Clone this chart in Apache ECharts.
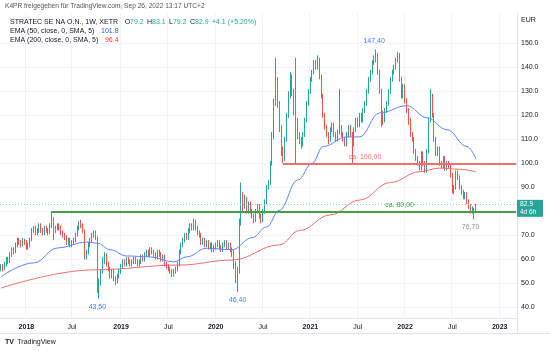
<!DOCTYPE html>
<html>
<head>
<meta charset="utf-8">
<script src="https://cdn.jsdelivr.net/npm/echarts@6/dist/echarts.min.js"></script>
<style>
  html, body {margin: 0; padding: 0; background: #ffffff;}
  #chart {width: 550px; height: 351px;}
</style>
</head>
<body>
<div id="chart"></div>
<script>
const firstWeek = "2017-09-25";
const weekCount = 284;

// weekly candles, [open, close, low, high]
const candles2017 = [
  [56, 57, 55, 58], [57, 56, 55, 58], [56, 58, 55.5, 59], [58, 60, 57, 61], [60, 59, 58, 61],
  [59, 62, 58.5, 63], [62, 64, 61, 65], [64, 63, 62, 65], [63, 66, 62.5, 67], [66, 68, 65, 69],
  [68, 67, 66, 69], [67, 66, 65, 68], [66, 68, 65.5, 69], [68, 67, 66, 68.5],
];
const candles2018 = [
  [67, 65, 64, 68], [65, 66, 64, 67], [66, 68, 65, 69], [68, 72, 67.5, 73], [72, 73, 71, 74],
  [73, 71, 70, 74], [71, 72, 70, 73], [72, 74, 71, 75], [74, 72, 71, 75], [72, 71, 70, 73],
  [71, 73, 70, 74], [73, 72, 71, 74], [72, 71, 70, 73], [71, 74, 70.5, 75], [74, 77, 73, 80],
  [77, 72, 68, 77.5], [72, 73, 71, 74], [73, 74, 72, 75], [74, 73, 72, 75], [73, 71, 70, 74],
  [71, 70, 69, 72], [70, 69, 68, 71], [69, 67, 66, 70], [67, 68, 66, 69], [68, 66, 65, 69],
  [66, 67, 65, 68], [67, 68, 66, 69], [68, 70, 67, 71], [70, 73, 69.5, 74], [73, 75, 72, 76],
  [75, 74, 73, 76.5], [74, 72, 71, 75], [72, 61, 60, 72.5], [61, 63, 60, 64], [63, 66, 62, 67],
  [66, 68, 65, 69], [68, 70, 67, 71], [70, 71, 69, 72], [71, 69, 68, 72], [69, 48, 46, 69.5],
  [48, 50, 43.5, 52], [50, 55, 49, 56], [55, 60, 54, 61], [60, 62, 58, 63], [62, 58, 57, 62.5],
  [58, 56, 55, 59], [56, 53, 52, 57], [53, 55, 52, 56], [55, 52, 51, 56], [52, 51, 49.3, 53],
  [51, 53, 50, 54], [53, 55, 52, 56],
];
const candles2019 = [
  [55, 57, 54, 58], [57, 59, 56, 60], [59, 58, 57, 60], [58, 60, 57, 61], [60, 59, 58, 61],
  [59, 58, 57, 60], [58, 59, 57, 60], [59, 60, 58, 61], [60, 59, 58, 61], [59, 58, 57, 60],
  [58, 59, 57, 60], [59, 61, 58, 62], [61, 60, 59, 62], [60, 62, 59, 63], [62, 63, 61, 64],
  [63, 62, 61, 64], [62, 64, 61, 65], [64, 63, 62, 65], [63, 62, 61, 64], [62, 61, 60, 63],
  [61, 63, 60, 64], [63, 62, 61, 64], [62, 60, 59, 63], [60, 61, 59, 62], [61, 58, 57, 62],
  [58, 57, 56, 59], [57, 56, 55, 58], [56, 55, 54, 57], [55, 53, 52.6, 56], [53, 55, 52.8, 56],
  [55, 56, 54, 57], [56, 58, 55, 59], [58, 63, 57, 64], [63, 66, 62, 67], [66, 68, 65, 69],
  [68, 70, 67, 71], [70, 69, 68, 71], [69, 72, 68, 73], [72, 74, 71, 75], [74, 73, 72, 75],
  [73, 76, 72, 77], [76, 73, 72, 76.5], [73, 71, 70, 74], [71, 70, 69, 72], [70, 67, 66, 71],
  [67, 68, 66, 69], [68, 66, 65, 69], [66, 67, 65, 68], [67, 65, 64, 68], [65, 66, 64, 67],
  [66, 64, 63, 67], [64, 65, 63, 66],
];
const candles2020 = [
  [65, 66, 64, 67], [66, 67, 65, 68], [67, 65, 64, 68], [65, 64, 63, 66], [64, 66, 63, 67],
  [66, 67, 65, 68], [67, 65, 64, 68], [65, 66, 64, 67], [66, 64, 63, 67], [64, 63, 61, 65],
  [63, 58, 56, 64], [58, 52, 50, 59], [52, 55, 46.4, 57], [55, 75, 54, 77], [75, 86, 74, 92],
  [86, 82, 80, 88], [82, 85, 81, 87], [85, 80, 79, 86], [80, 83, 79, 84], [83, 80, 79, 84],
  [80, 78, 77, 81], [78, 76, 75, 79], [76, 80, 75.5, 81], [80, 82, 79, 83], [82, 78, 77, 83],
  [78, 76, 75, 79], [76, 80, 75.5, 81], [80, 84, 79, 85], [84, 90, 83, 91], [90, 92, 89, 93],
  [92, 100, 91, 101], [100, 112, 99, 113], [112, 125, 110, 127], [125, 135, 124, 144], [135, 125, 123, 136],
  [125, 115, 113, 126], [115, 105, 103, 116], [105, 102, 100, 107], [102, 110, 101, 111], [110, 120, 109, 121],
  [120, 128, 119, 130], [128, 136, 127, 138], [136, 130, 128, 137], [130, 122, 120, 131], [122, 118, 100, 144],
  [118, 112, 110, 119], [112, 110, 108, 113], [110, 108, 106, 111], [108, 112, 107, 113], [112, 118, 111, 119],
  [118, 125, 117, 126], [125, 130, 124, 131],
];
const candles2021 = [
  [130, 135, 129, 136], [135, 138, 134, 139], [138, 142, 137, 143], [142, 140, 139, 143], [140, 143, 139, 145],
  [143, 136, 135, 144], [136, 128, 127, 137], [128, 120, 119, 129], [120, 115, 114, 121], [115, 112, 111, 116],
  [112, 110, 108, 113], [110, 114, 109, 115], [114, 116, 113, 117], [116, 112, 111, 117], [112, 110, 109, 113],
  [110, 113, 109, 114], [113, 115, 112, 131], [115, 112, 111, 116], [112, 110, 109, 113], [110, 108, 107, 111],
  [108, 112, 107, 113], [112, 115, 111, 116], [115, 112, 111, 116], [112, 108, 100, 113], [108, 114, 107, 115],
  [114, 118, 113, 119], [118, 116, 115, 119], [116, 120, 115, 121], [120, 118, 117, 121], [118, 122, 117, 123],
  [122, 125, 121, 126], [125, 130, 124, 131], [130, 135, 129, 136], [135, 138, 134, 139], [138, 142, 137, 143],
  [142, 144, 141, 145], [144, 145, 142, 147.4], [145, 138, 137, 146], [138, 130, 129, 139], [130, 120, 115, 131],
  [120, 118, 116, 122], [118, 122, 117, 123], [122, 125, 121, 126], [125, 130, 124, 131], [130, 135, 129, 136],
  [135, 138, 134, 139], [138, 140, 137, 141], [140, 143, 139, 144], [143, 145, 142, 146.3], [145, 135, 134, 146],
  [135, 128, 127, 136], [128, 132, 127, 133], [132, 126, 125, 133],
];
const candles2022 = [
  [126, 122, 121, 127], [122, 118, 116, 123], [118, 112, 111, 119], [112, 110, 109, 113], [110, 105, 104, 111],
  [105, 102, 101, 106], [102, 100, 99, 103], [100, 98, 97, 101], [98, 104, 97, 105], [104, 100, 99, 105],
  [100, 97, 96, 101], [97, 105, 96, 106], [105, 118, 104, 119], [118, 128, 117, 131], [128, 120, 119, 129],
  [120, 110, 109, 121], [110, 104, 103, 111], [104, 106, 103, 107], [106, 100, 99, 107], [100, 99, 98, 101],
  [99, 102, 98, 103], [102, 98, 97, 103], [98, 100, 97, 101], [100, 99, 98, 101], [99, 95, 94, 100],
  [95, 88, 87.5, 96], [88, 90, 87, 91], [90, 96, 89, 97], [96, 94, 93, 97], [94, 90, 89, 95],
  [90, 88, 87, 91], [88, 86, 85, 89], [86, 87, 85, 88], [87, 84, 83, 88], [84, 82, 81, 85],
  [82, 80, 79, 83], [80, 81, 79, 82], [81, 79.2, 76.7, 81.5], [79.2, 82.9, 79.2, 83.1],
];

// moving averages, [week index, value]
const ema50Points = [
  [0, 52.7], [18, 58.5], [31, 64.7], [47, 67.2], [53, 66.7], [60, 64], [69, 61.4], [82, 61],
  [95, 58.9], [102, 61], [113, 64.6], [127, 64], [138, 69], [146, 73.5], [153, 80.5], [163, 93],
  [171, 100], [177, 107], [190, 111], [197, 111], [208, 121], [223, 124], [234, 119], [245, 114],
  [256, 107], [261, 101.8],
];
const ema200Points = [
  [0, 48], [51, 55.6], [98, 57.6], [127, 59.7], [153, 66], [164, 72], [181, 78.5], [197, 84.7],
  [214, 92], [230, 96.5], [241, 98], [252, 97.5], [261, 96.4],
];

const priceTicks = [40, 50, 60, 70, 80, 90, 100, 110, 120, 130, 140, 150];
// [week index, price, text, side]
const extremeLabels = [
  [205, 147.4, "147,40", "top"],
  [53, 43.5, "43,50", "bottom"],
  [130, 46.4, "46,40", "bottom"],
  [258, 76.7, "76,70", "bottom"],
];
const resistance = {from: 155, value: 100, text: "ca. 100,00", at: 200};
const support = {from: 28, value: 80, text: "ca. 80,00", at: 219};

const up = "#26a69a";
const down = "#ef5350";
const font = "'Liberation Sans', Arial, sans-serif";

function buildWeeks() {
  const weeks = [];
  const start = new Date(firstWeek + "T00:00:00Z").getTime();
  for (let i = 0; i < weekCount; i++) {
    weeks.push(new Date(start + i * 7 * 86400000).toISOString().slice(0, 10));
  }
  return weeks;
}

const weeks = buildWeeks();

// a week gets a label when it holds the 1st of January or July
function halfYearMark(week) {
  const end = new Date(new Date(week + "T00:00:00Z").getTime() + 6 * 86400000);
  if (end.getUTCDate() > 7) {
    return null;
  }
  if (end.getUTCMonth() === 0) {
    return "{y|" + end.getUTCFullYear() + "}";
  }
  if (end.getUTCMonth() === 6) {
    return "{m|Jul}";
  }
  return null;
}

const candles = candles2017.concat(candles2018, candles2019, candles2020, candles2021, candles2022);
const last = candles[candles.length - 1];

const chart = echarts.init(document.getElementById("chart"));

const option = {
  animation: false,
  backgroundColor: "#ffffff",
  grid: {left: 0, right: 33, top: 13, bottom: 33},
  xAxis: {
    type: "category",
    data: weeks,
    boundaryGap: true,
    axisLine: {show: true, lineStyle: {color: "#e0e3eb"}},
    axisTick: {show: false},
    axisLabel: {
      interval: (i, v) => halfYearMark(v) !== null,
      formatter: (v) => halfYearMark(v),
      margin: 6,
      rich: {
        y: {fontSize: 7, fontWeight: "bold", color: "#131722", fontFamily: font},
        m: {fontSize: 7, color: "#131722", fontFamily: font},
      },
    },
    splitLine: {
      show: true,
      interval: (i, v) => halfYearMark(v) !== null,
      lineStyle: {color: "#f0f3fa", width: 1},
    },
  },
  yAxis: {
    type: "value",
    position: "right",
    min: 35.54,
    max: 162.63,
    axisLine: {show: true, lineStyle: {color: "#e0e3eb"}},
    axisTick: {show: false, customValues: priceTicks},
    axisLabel: {
      customValues: priceTicks,
      formatter: (v) => v.toFixed(1),
      margin: 4,
      fontSize: 7,
      color: "#131722",
      fontFamily: font,
    },
    splitLine: {show: true, lineStyle: {color: "#f0f3fa", width: 1}},
  },
  series: [
    {
      type: "candlestick",
      data: candles,
      barWidth: "70%",
      itemStyle: {color: up, color0: down, borderColor: up, borderColor0: down, borderWidth: 1},
      markLine: {
        silent: true,
        symbol: ["none", "none"],
        label: {show: false},
        data: [
          [{coord: [resistance.from, resistance.value], lineStyle: {color: "#f26d6d", width: 2, type: "solid"}},
            {coord: [weekCount - 1, resistance.value]}],
          [{coord: [support.from, support.value], lineStyle: {color: "#43a047", width: 2, type: "solid"}},
            {coord: [weekCount - 1, support.value]}],
          {yAxis: last[1], lineStyle: {color: "#7fcdc5", width: 1, type: [1, 2]}},
        ],
      },
      markPoint: {
        silent: true,
        symbol: "circle",
        symbolSize: 1,
        itemStyle: {color: "rgba(0,0,0,0)"},
        data: extremeLabels.map((m) => ({
          coord: [m[0], m[1]],
          name: m[2],
          label: {
            show: true,
            position: m[3],
            distance: 4,
            formatter: m[2],
            fontSize: 7,
            fontFamily: font,
            color: m[0] === 258 ? "#8a8e99" : "#4a78f0",
          },
        })).concat([
          {coord: [resistance.at, resistance.value], label: {show: true, position: "top", distance: 2,
            formatter: resistance.text, fontSize: 7, fontFamily: font, color: "#f26d6d"}},
          {coord: [support.at, support.value], label: {show: true, position: "top", distance: 2,
            formatter: support.text, fontSize: 7, fontFamily: font, color: "#43a047"}},
        ]),
      },
    },
    {
      type: "line",
      data: ema50Points,
      smooth: 0.4,
      smoothMonotone: "x",
      showSymbol: false,
      lineStyle: {color: "#5b82ff", width: 1},
      z: 3,
    },
    {
      type: "line",
      data: ema200Points,
      smooth: 0.4,
      smoothMonotone: "x",
      showSymbol: false,
      lineStyle: {color: "#f26d6d", width: 1},
      z: 3,
    },
  ],
};

chart.setOption(option);

const boxY = chart.convertToPixel({yAxisIndex: 0}, last[1]);

chart.setOption({
  graphic: [
    {type: "text", x: 5, y: 6, style: {text: "K4PR freigegeben für TradingView.com, Sep 26, 2022 13:17 UTC+2",
      fontSize: 6.6, fontFamily: font, fill: "#50535e", verticalAlign: "middle"}},
    {type: "text", x: 10, y: 22, style: {
      text: "{n|STRATEC SE NA O.N., 1W, XETR}  {k|O}{v|79.2} {k|H}{v|83.1} {k|L}{v|79.2} {k|C}{v|82.9} {v|+4.1 (+5.20%)}",
      verticalAlign: "middle",
      rich: {
        n: {fontSize: 7, fontFamily: font, fill: "#131722"},
        k: {fontSize: 7, fontFamily: font, fill: "#131722"},
        v: {fontSize: 7, fontFamily: font, fill: up},
      },
    }},
    {type: "text", x: 10, y: 31.5, style: {
      text: "{n|EMA (50, close, 0, SMA, 5)}  {v|101.8}",
      verticalAlign: "middle",
      rich: {n: {fontSize: 7, fontFamily: font, fill: "#131722"}, v: {fontSize: 7, fontFamily: font, fill: "#2962ff"}},
    }},
    {type: "text", x: 10, y: 40.5, style: {
      text: "{n|EMA (200, close, 0, SMA, 5)}  {v|96.4}",
      verticalAlign: "middle",
      rich: {n: {fontSize: 7, fontFamily: font, fill: "#131722"}, v: {fontSize: 7, fontFamily: font, fill: "#f23645"}},
    }},
    {type: "text", x: 521, y: 20, style: {text: "EUR", fontSize: 7, fontFamily: font, fill: "#131722", verticalAlign: "middle"}},
    {type: "rect", z: 100, shape: {x: 517, y: boxY - 4.5, width: 26, height: 17}, style: {fill: up}},
    {type: "text", z: 101, x: 520, y: boxY - 0.5, style: {text: last[1].toFixed(1), fontSize: 6.8, fontFamily: font,
      fill: "#ffffff", verticalAlign: "middle"}},
    {type: "text", z: 101, x: 520, y: boxY + 7.5, style: {text: "4d 6h", fontSize: 6.5, fontFamily: font,
      fill: "#ffffff", verticalAlign: "middle"}},
    {type: "line", shape: {x1: 0, y1: 333.5, x2: 550, y2: 333.5}, style: {stroke: "#e0e3eb", lineWidth: 1}},
    {type: "line", shape: {x1: 517.5, y1: 13, x2: 517.5, y2: 333}, style: {stroke: "#e0e3eb", lineWidth: 1}},
    {type: "text", x: 5, y: 342, style: {text: "{l|TV} {t|TradingView}", verticalAlign: "middle", rich: {
      l: {fontSize: 7, fontWeight: "bold", fontFamily: font, fill: "#131722"},
      t: {fontSize: 7, fontFamily: font, fill: "#131722"},
    }}},
  ],
});
</script>
</body>
</html>
